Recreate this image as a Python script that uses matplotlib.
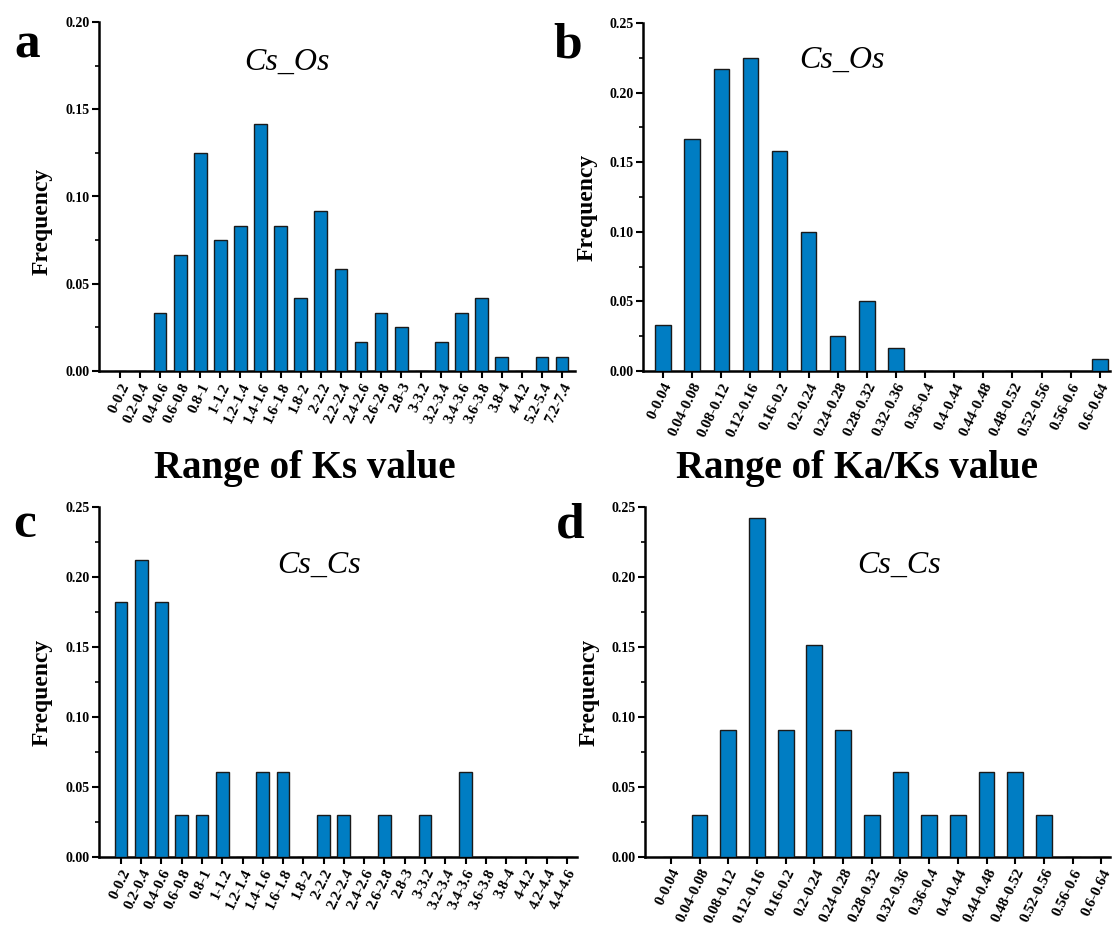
import numpy as np
import matplotlib.pyplot as plt
from matplotlib.ticker import MultipleLocator

plt.rcParams['font.family'] = ['Liberation Serif', 'DejaVu Serif']

# Ks ranges, Cs_Os
ks_os_labels = ['0-0.2', '0.2-0.4', '0.4-0.6', '0.6-0.8', '0.8-1', '1-1.2', '1.2-1.4',
                '1.4-1.6', '1.6-1.8', '1.8-2', '2-2.2', '2.2-2.4', '2.4-2.6', '2.6-2.8',
                '2.8-3', '3-3.2', '3.2-3.4', '3.4-3.6', '3.6-3.8', '3.8-4', '4-4.2',
                '5.2-5.4', '7.2-7.4']
ks_os_freq = [0, 0, 0.0333, 0.0667, 0.125, 0.075, 0.0833, 0.1417, 0.0833, 0.0417,
              0.0917, 0.0583, 0.0167, 0.0333, 0.025, 0, 0.0167, 0.0333, 0.0417,
              0.0083, 0, 0.0083, 0.0083]

# Ka/Ks ranges (same bins for both)
kaks_labels = ['0-0.04', '0.04-0.08', '0.08-0.12', '0.12-0.16', '0.16-0.2', '0.2-0.24',
               '0.24-0.28', '0.28-0.32', '0.32-0.36', '0.36-0.4', '0.4-0.44', '0.44-0.48',
               '0.48-0.52', '0.52-0.56', '0.56-0.6', '0.6-0.64']
kaks_os_freq = [0.0333, 0.1667, 0.2167, 0.225, 0.1583, 0.1, 0.025, 0.05, 0.0167,
                0, 0, 0, 0, 0, 0, 0.0083]

# Ks ranges, Cs_Cs
ks_cs_labels = ['0-0.2', '0.2-0.4', '0.4-0.6', '0.6-0.8', '0.8-1', '1-1.2', '1.2-1.4',
                '1.4-1.6', '1.6-1.8', '1.8-2', '2-2.2', '2.2-2.4', '2.4-2.6', '2.6-2.8',
                '2.8-3', '3-3.2', '3.2-3.4', '3.4-3.6', '3.6-3.8', '3.8-4', '4-4.2',
                '4.2-4.4', '4.4-4.6']
ks_cs_freq = [0.1818, 0.2121, 0.1818, 0.0303, 0.0303, 0.0606, 0, 0.0606, 0.0606, 0,
              0.0303, 0.0303, 0, 0.0303, 0, 0.0303, 0, 0.0606, 0, 0, 0, 0, 0]

kaks_cs_freq = [0, 0.0303, 0.0909, 0.2424, 0.0909, 0.1515, 0.0909, 0.0303, 0.0606,
                0.0303, 0.0303, 0.0606, 0.0606, 0.0303, 0, 0]

W, H = 1113, 925
fig = plt.figure(figsize=(W / 100, H / 100), dpi=100)

def px_axes(l, r, t, b):
    return fig.add_axes([l / W, 1 - b / H, (r - l) / W, (b - t) / H])

blue = '#007dc3'

panels = [
    # box, labels, values, ylim, xlim, width, title, title pos, ylabel y, letter
    ((99, 575, 22, 371), ks_os_labels, ks_os_freq, 0.20, (-1.04, 22.65), 0.63,
     'Cs_Os', (287, 62), 0.43, 'a', (14, 57)),
    ((643, 1110, 23, 371), kaks_labels, kaks_os_freq, 0.25, (-0.69, 15.35), 0.53,
     'Cs_Os', (842, 60), 0.47, 'b', (553, 57)),
    ((99, 577, 507, 857), ks_cs_labels, ks_cs_freq, 0.25, (-1.08, 22.5), 0.63,
     'Cs_Cs', (319, 565), 0.47, 'c', (13, 537)),
    ((645, 1110, 507, 857), kaks_labels, kaks_cs_freq, 0.25, (-0.9, 15.3), 0.55,
     'Cs_Cs', (899, 565), 0.47, 'd', (556, 537)),
]

for box, labels, vals, ytop, xlim, bw, title, tpos, ylab_y, letter, lpos in panels:
    ax = px_axes(*box)
    x = np.arange(len(labels))
    ax.bar(x, vals, width=bw, color=blue, edgecolor='#1a1a1a', linewidth=1.0, zorder=3)
    ax.set_xlim(*xlim)
    ax.set_ylim(0, ytop)
    ax.set_xticks(x)
    ax.set_xticklabels(labels, rotation=64, ha='right', rotation_mode='anchor',
                       fontsize=11, fontweight='bold')
    ax.yaxis.set_major_locator(MultipleLocator(0.05))
    ax.yaxis.set_minor_locator(MultipleLocator(0.025))
    ax.set_yticklabels([f'{v:.2f}' for v in ax.get_yticks()], fontsize=10, fontweight='bold')
    for s in ['top', 'right']:
        ax.spines[s].set_visible(False)
    for s in ['left', 'bottom']:
        ax.spines[s].set_linewidth(1.8)
    ax.tick_params(axis='both', which='major', direction='out', length=5, width=1.5, pad=2)
    ax.tick_params(axis='y', which='minor', direction='out', length=3, width=1.2)
    ax.set_ylabel('Frequency', fontsize=17, fontweight='bold')
    ax.yaxis.set_label_coords(-0.098, ylab_y)
    fig.text(tpos[0] / W, 1 - tpos[1] / H, title, fontsize=23, style='italic',
             ha='center', va='center')
    fig.text(lpos[0] / W, 1 - lpos[1] / H, letter, fontsize=37, fontweight='bold',
             ha='left', va='baseline')

fig.text(305 / W, 1 - 468 / H, 'Range of Ks value', fontsize=28, fontweight='bold',
         ha='center', va='center')
fig.text(857 / W, 1 - 468 / H, 'Range of Ka/Ks value', fontsize=28, fontweight='bold',
         ha='center', va='center')

fig.savefig('out.png', dpi=100)
